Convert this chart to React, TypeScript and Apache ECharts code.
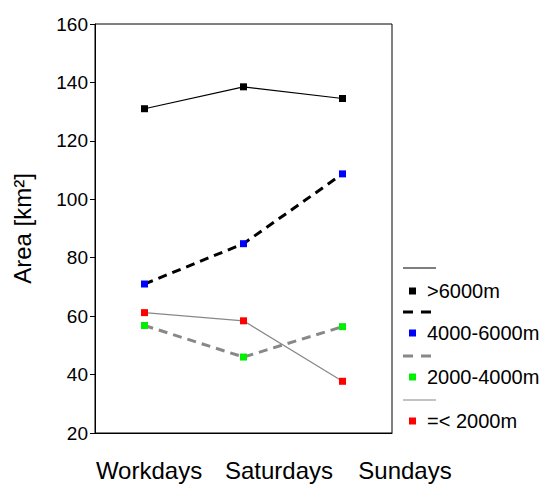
import React, { useEffect, useRef } from "react";
import * as echarts from "echarts";

const categories = ["Workdays", "Saturdays", "Sundays"];
const seriesNames = [">6000m", "4000-6000m", "2000-4000m", "=< 2000m"];
const above6000 = [131, 138.5, 134.5];
const from4000to6000 = [71, 84.8, 108.7];
const from2000to4000 = [56.8, 46, 56.4];
const below2000 = [61.2, 58.4, 37.7];
const yTicks = { min: 20, max: 160, interval: 20 };

const FONT = "'Liberation Sans', Arial, sans-serif";

export default function App() {
  const ref = useRef<HTMLDivElement>(null);
  useEffect(() => {
    if (!ref.current) return;
    const chart = echarts.init(ref.current, undefined, { renderer: "svg" });
    const lineStyles = [
      { color: "#000000", width: 1.2, type: "solid" as const },
      { color: "#000000", width: 3, type: [9, 6] as any },
      { color: "#888888", width: 3, type: [9, 6] as any },
      { color: "#888888", width: 1.2, type: "solid" as const },
    ];
    const markerColors = ["#000000", "#0000ff", "#00ee00", "#ff0000"];
    const datasets = [above6000, from4000to6000, from2000to4000, below2000];

    const graphics: any[] = [];
    const lineYs = [268, 312, 356, 400];
    const markYs = [291, 333, 377, 421];
    seriesNames.forEach((name, i) => {
      graphics.push({
        type: "line",
        shape: { x1: 403, y1: lineYs[i], x2: 436, y2: lineYs[i] },
        style: {
          stroke: lineStyles[i].color,
          lineWidth: i === 0 || i === 3 ? 1.2 : 3,
          lineDash: i === 1 || i === 2 ? [10, 8] : null,
        },
      });
      graphics.push({
        type: "rect",
        shape: { x: 409, y: markYs[i] - 3.5, width: 7, height: 7 },
        style: { fill: markerColors[i] },
      });
      graphics.push({
        type: "text",
        x: 427,
        y: markYs[i],
        style: {
          text: name,
          font: `20px ${FONT}`,
          fill: "#000",
          verticalAlign: "middle",
          align: "left",
        },
      });
    });
    const labelXs = [149, 279, 405];
    categories.forEach((c, i) => {
      graphics.push({
        type: "text",
        x: labelXs[i],
        y: 470,
        style: {
          text: c,
          font: `24px ${FONT}`,
          fill: "#000",
          verticalAlign: "middle",
          align: "center",
        },
      });
    });

    chart.setOption({
      animation: false,
      backgroundColor: "#ffffff",
      grid: {
        left: 95,
        top: 24,
        right: 153,
        bottom: 51,
        show: true,
        borderColor: "#000",
        borderWidth: 1,
        backgroundColor: "transparent",
      },
      xAxis: {
        type: "category",
        data: categories,
        boundaryGap: true,
        axisLine: { show: true, lineStyle: { color: "#000", width: 1 } },
        axisTick: { show: false },
        axisLabel: { show: false },
      },
      yAxis: {
        type: "value",
        min: yTicks.min,
        max: yTicks.max,
        interval: yTicks.interval,
        name: "Area [km²]",
        nameLocation: "middle",
        nameGap: 61,
        nameTextStyle: { color: "#000", fontSize: 24, fontFamily: FONT },
        axisLine: { show: true, lineStyle: { color: "#000", width: 1 } },
        axisTick: { show: true, length: 5, lineStyle: { color: "#000" } },
        axisLabel: { color: "#000", fontSize: 19, fontFamily: FONT, margin: 7 },
        splitLine: { show: false },
      },
      series: datasets.map((d, i) => ({
        name: seriesNames[i],
        type: "line",
        data: d,
        symbol: "rect",
        symbolSize: 7,
        showSymbol: true,
        itemStyle: { color: markerColors[i], borderWidth: 0 },
        lineStyle: lineStyles[i],
        z: 2 + i,
      })),
      graphic: graphics,
    });
    return () => chart.dispose();
  }, []);
  return (
    <div
      ref={ref}
      style={{ position: "fixed", left: 0, top: 0, width: 545, height: 484 }}
    />
  );
}
